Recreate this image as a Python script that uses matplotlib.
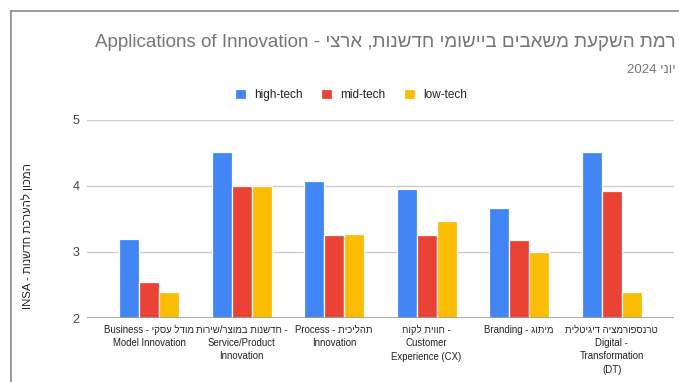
import numpy as np
import matplotlib.pyplot as plt
from matplotlib.lines import Line2D

plt.rcParams['font.family'] = ['Liberation Sans', 'DejaVu Sans']


def rtl(s):
    # matplotlib has no bidi support, so Hebrew runs are reversed by hand
    return s[::-1]


# x labels, line by line in display order
categories = [
    "Business - " + rtl("מודל עסקי") + "\nModel Innovation",
    rtl("חדשנות במוצר/שירות") + " -\nService/Product\nInnovation",
    "Process - " + rtl("תהליכית") + "\nInnovation",
    rtl("חווית לקוח") + " -\nCustomer\nExperience (CX)",
    "Branding - " + rtl("מיתוג"),
    rtl("טרנספורמציה דיגיטלית") + "\nDigital -\nTransformation\n(DT)",
]

high_tech = [3.19, 4.51, 4.07, 3.95, 3.67, 4.52]
mid_tech = [2.55, 4.00, 3.26, 3.25, 3.18, 3.92]
low_tech = [2.40, 4.00, 3.27, 3.47, 3.00, 2.40]

series_names = ["high-tech", "mid-tech", "low-tech"]
colors = ["#4285F4", "#EA4335", "#FBBC04"]

title = "Applications of Innovation - " + rtl("רמת השקעת משאבים ביישומי חדשנות, ארצי")
subtitle = "2024 " + rtl("יוני")
ylabel = "INSA - " + rtl("המכון להערכת חדשנות")

fig = plt.figure(figsize=(6.79, 3.82), dpi=100)
ax = fig.add_axes([0.1277, 0.1675, 0.8649, 0.5185])

x = np.arange(len(categories))
w = 0.216
for i, (vals, name, c) in enumerate(zip([high_tech, mid_tech, low_tech], series_names, colors)):
    ax.bar(x + (i - 1) * w, np.array(vals) - 2, width=w, bottom=2, color=c,
           edgecolor="white", linewidth=0.9, label=name, zorder=3)

ax.set_xlim(-0.673, 5.673)
ax.set_ylim(2, 5)
ax.set_yticks([2, 3, 4, 5])
ax.yaxis.grid(True, color="#cccccc", linewidth=1, zorder=0)
ax.axhline(2, color="#9e9e9e", linewidth=1.2, zorder=4)
for s in ax.spines.values():
    s.set_visible(False)
ax.tick_params(axis="y", length=0, pad=5, labelsize=9, labelcolor="#444444")
ax.tick_params(axis="x", length=0, pad=5)
ax.set_xticks(x)
ax.set_xticklabels(categories, fontsize=6.9, color="#222222", linespacing=1.4,
                   va="top")
ax.set_ylabel(ylabel, fontsize=8.2, color="#222222")
ax.yaxis.set_label_coords(-0.0915, 0.414)

fig.text(0.9956, 0.888, title, ha="right", va="center", fontsize=13.5, color="#757575")
fig.text(0.9956, 0.818, subtitle, ha="right", va="center", fontsize=9.5, color="#757575")

leg = ax.legend(loc="center", bbox_to_anchor=(0.45, 1.126), ncol=3, frameon=False,
                fontsize=8.5, handlelength=0.9, handleheight=0.9, columnspacing=1.6,
                handletextpad=0.7)
for t in leg.get_texts():
    t.set_color("#222222")

# frame lines on the left and top of the card
fig.add_artist(Line2D([0.0162, 0.0162], [0, 0.971], transform=fig.transFigure,
                      color="#8a8a8a", linewidth=1.2))
fig.add_artist(Line2D([0.0162, 1], [0.971, 0.971], transform=fig.transFigure,
                      color="#8a8a8a", linewidth=1.2))

fig.savefig("out.png", dpi=100)
